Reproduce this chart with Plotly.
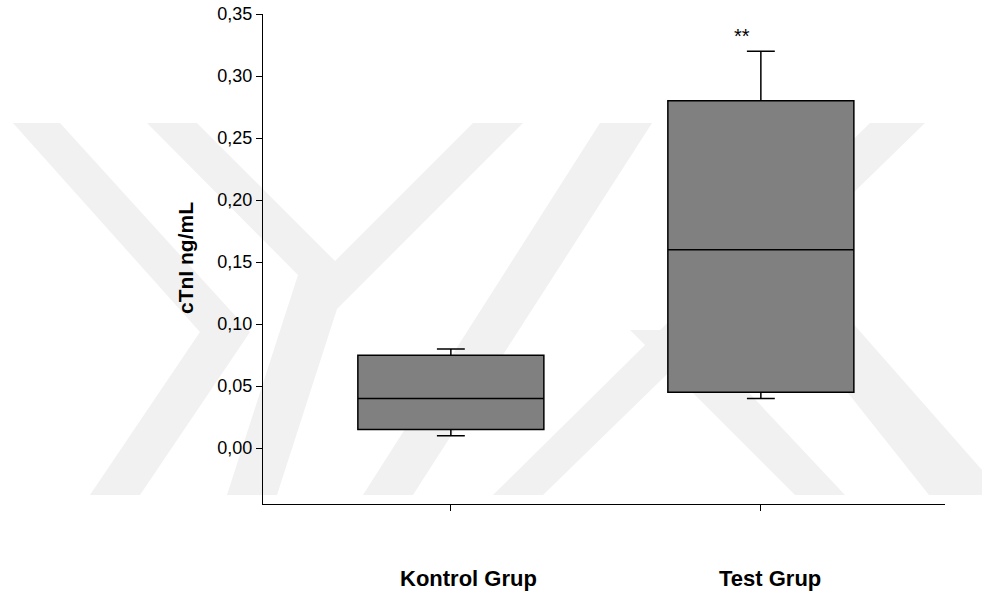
import plotly.graph_objects as go

# ---- data ----
categories = ["Kontrol Grup", "Test Grup"]
lower_whisker = [0.010, 0.040]
q1_values = [0.015, 0.045]
median_values = [0.040, 0.160]
q3_values = [0.075, 0.280]
upper_whisker = [0.080, 0.320]
y_tick_values = [0.00, 0.05, 0.10, 0.15, 0.20, 0.25, 0.30, 0.35]
significance = ["", "**"]
y_title = "cTnI ng/mL"

# ---- layout geometry (pixels) ----
W, H = 982, 597
L, R, T, B = 263, 37, 14, 93
PW, PH = W - L - R, H - T - B

def to_paper(px, py):
    return (px - L) / PW, (H - B - py) / PH

# faint background watermark (decorative)
wm_polys = [
    [(13, 123), (60, 123), (250, 332), (140, 495), (90, 495), (200, 332)],
    [(147, 123), (197, 123), (335, 261), (473, 123), (523, 123), (337, 309),
     (277, 495), (227, 495), (298, 275)],
    [(600, 123), (652, 123), (413, 495), (363, 495)],
    [(870, 123), (925, 123), (543, 495), (493, 495)],
    [(630, 330), (690, 330), (845, 495), (795, 495)],
    [(790, 320), (850, 320), (982, 470), (982, 495), (929, 495)],
]
shapes = []
for poly in wm_polys:
    pts = [to_paper(x, y) for x, y in poly]
    path = "M " + " L ".join(f"{x:.4f},{y:.4f}" for x, y in pts) + " Z"
    shapes.append(dict(type="path", xref="paper", yref="paper", path=path,
                       fillcolor="#f1f1f1", line=dict(width=0), layer="below"))

fig = go.Figure()
positions = list(range(len(categories)))
for i, name in enumerate(categories):
    fig.add_trace(go.Box(
        x=[positions[i]],
        q1=[q1_values[i]], median=[median_values[i]], q3=[q3_values[i]],
        lowerfence=[lower_whisker[i]], upperfence=[upper_whisker[i]],
        width=0.6, whiskerwidth=0.15,
        fillcolor="#808080",
        line=dict(color="#000000", width=1.5),
        boxpoints=False, name=name, showlegend=False, hoverinfo="skip",
    ))

annotations = []
label_shift = [18, 9]
for i, name in enumerate(categories):
    annotations.append(dict(
        x=positions[i], xref="x", y=(H - 578 - B) / PH, yref="paper",
        text=f"<b>{name}</b>", showarrow=False, xshift=label_shift[i],
        font=dict(family="Liberation Sans, Arial", size=22, color="#000"),
        xanchor="center", yanchor="middle",
    ))
    if significance[i]:
        annotations.append(dict(
            x=positions[i], xref="x", y=upper_whisker[i], yref="y",
            text=significance[i], showarrow=False, xshift=-19, yshift=2,
            font=dict(family="Liberation Sans, Arial", size=20, color="#000"),
            xanchor="center", yanchor="bottom",
        ))

tx, ty = to_paper(185, 258)
annotations.append(dict(
    x=tx, y=ty, xref="paper", yref="paper", text=f"<b>{y_title}</b>",
    textangle=-90, showarrow=False, xanchor="center", yanchor="middle",
    font=dict(family="Liberation Sans, Arial", size=21, color="#000"),
))

fig.update_layout(
    width=W, height=H,
    margin=dict(l=L, r=R, t=T, b=B, pad=0, autoexpand=False),
    paper_bgcolor="white", plot_bgcolor="rgba(0,0,0,0)",
    separators=",.",
    shapes=shapes, annotations=annotations,
    font=dict(family="Liberation Sans, Arial", color="#000"),
    xaxis=dict(
        range=[-0.606, 1.594], tickvals=positions, showticklabels=False,
        ticks="outside", ticklen=6, tickcolor="#000", tickwidth=1,
        showline=True, linecolor="#000", linewidth=1, automargin=False,
        showgrid=False, zeroline=False, fixedrange=True,
    ),
    yaxis=dict(
        range=[-0.045, 0.35], tickvals=y_tick_values, tickformat=".2f",
        ticks="outside", ticklen=6, tickcolor="#000", tickwidth=1,
        tickfont=dict(family="Liberation Sans, Arial", size=18, color="#000"),
        showline=True, linecolor="#000", linewidth=1, automargin=False,
        showgrid=False, zeroline=False, fixedrange=True,
    ),
)

fig.write_html("out.html")
